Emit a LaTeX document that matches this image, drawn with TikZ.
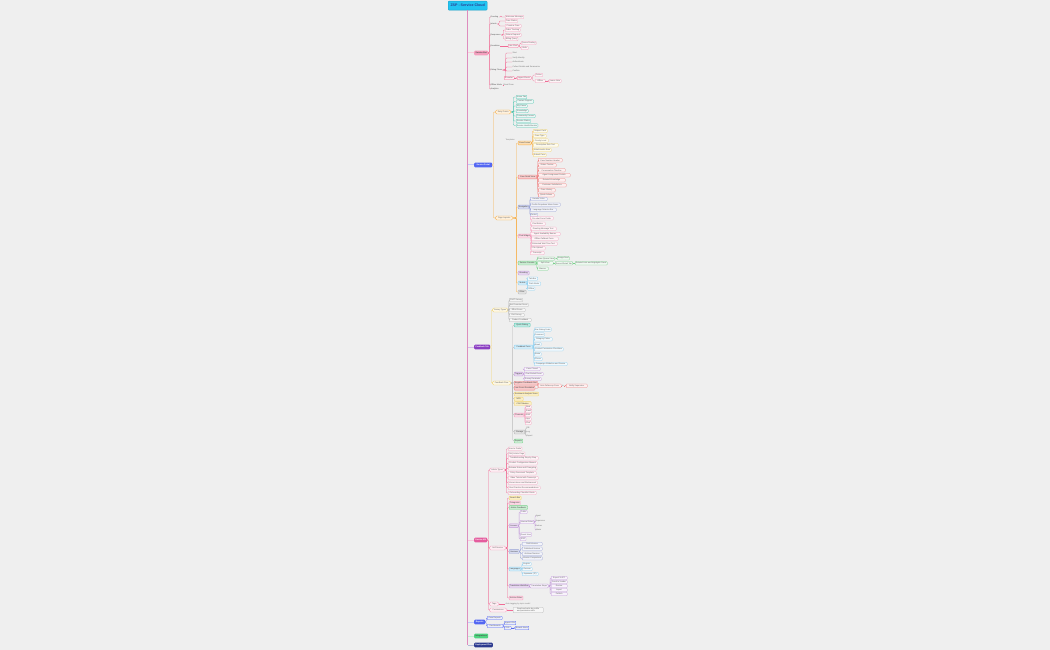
\documentclass[tikz,border=0pt]{standalone}
\usepackage{fontspec}
\setmainfont{Liberation Sans}
\usetikzlibrary{arrows.meta}
\newcommand\mmf{\fontsize{2}{2.3}\selectfont}
\definecolor{bgc}{HTML}{EFEFEF}
\definecolor{trunkcol}{RGB}{222,140,190}
\definecolor{pk}{HTML}{F06C95}
\definecolor{pkl}{HTML}{F4A0BE}
\definecolor{orc}{HTML}{F7B04A}
\definecolor{tl}{HTML}{52C7B2}
\definecolor{rd}{HTML}{EE7F7F}
\definecolor{pr}{HTML}{C39BDA}
\definecolor{bgr}{HTML}{98A2D6}
\definecolor{lb}{HTML}{8FD0F0}
\definecolor{gr}{HTML}{79D08C}
\definecolor{gy}{HTML}{B5B5B5}
\definecolor{yl}{HTML}{F2D46E}
\definecolor{bb}{HTML}{5467F2}
\definecolor{pp}{HTML}{8B3FC2}
\definecolor{pm}{HTML}{E45C9E}
\definecolor{gg}{HTML}{4FD47F}
\definecolor{nv}{HTML}{2D3A8F}
\definecolor{cy}{HTML}{22C4F2}
\tikzset{
 lf/.style={draw=#1, fill=#1!12!white, rounded corners=0.6pt, line width=0.25pt, inner xsep=0.8pt, inner ysep=0.3pt, minimum height=3.4pt, anchor=west, font=\mmf, text=black!60},
 ov/.style={draw=#1, fill=#1!18!white, rounded corners=1.8pt, line width=0.3pt, inner xsep=1.2pt, inner ysep=0.3pt, minimum height=4pt, anchor=west, font=\mmf, text=black!60},
 hd/.style={fill=#1!40!white, draw=#1, rounded corners=0.6pt, line width=0.3pt, inner xsep=0.8pt, inner ysep=0.3pt, minimum height=3.8pt, anchor=west, font=\mmf, text=black!75},
 pl/.style={anchor=west, font=\mmf, inner sep=0.4pt, text=black!70},
 mn/.style={fill=#1, rounded corners=1pt, inner xsep=1.2pt, inner ysep=0.3pt, minimum height=4.6pt, anchor=west, font=\mmf\bfseries, text=white},
 ln/.style={draw=#1, line width=0.3pt, rounded corners=1pt},
 ar/.style={ln=#1, -{Stealth[length=1.2pt,width=1.2pt]}},
}
\begin{document}
\begin{tikzpicture}[x=1pt,y=-1pt]
\useasboundingbox[fill=bgc] (0,0) rectangle (1050,650);
% title
\node[fill=cy, draw=cy!80!black, line width=0.3pt, rounded corners=0.8pt, minimum width=39pt, minimum height=9pt, inner sep=0.5pt, font=\fontsize{3.6}{4}\selectfont\bfseries, text=nv, anchor=north west] (title) at (448,1) {ZSP - Service Cloud};
% main branches
\node[mn=pkl, text=black!70, minimum width=14pt] (m1) at (474,53) {Service Bot};
\node[mn=bb, minimum width=18pt] (m2) at (474,165) {Service Portal};
\node[mn=pp, minimum width=16pt] (m3) at (474,347) {Feedback Tab};
\node[mn=pm, minimum width=13pt] (m4) at (474,540) {Service KB};
\node[mn=bb, minimum width=11pt] (m5) at (474,622) {Reports};
\node[mn=gg, text=black!70, minimum width=14pt] (m6) at (474,636) {Integrations};
\node[mn=nv, minimum width=18pt] (m7) at (474,645) {Deployment Plan};
\path[fill=trunkcol] ([xshift=-0.8pt]title.south) rectangle ([xshift=0.8pt]title.south |- m7.west);
\foreach \m/\cl in {m1/pk, m2/bb, m3/pp, m4/pm, m5/bb, m6/gg, m7/nv}
  \draw[draw=\cl!35!white, line width=1pt] ([xshift=0.8pt]title.south |- \m.west) -- (\m.west);

% ---------------- branch 1
\foreach \nm/\yy/\lbl in {a1/17/Greeting, a2/24/Intents, a3/35/Responses, a4/46/Escalation, a5/70/Dialog Flows, a6/85/Offline Mode, a7/89/Analytics}{
  \node[pl] (\nm) at (490,\yy) {\lbl};
  \draw[ln=pk] (m1.east) -- ++(1,0) |- (\nm.west);
}
\node[lf=pkl, minimum width=18pt] (a1-1) at (505,17) {Welcome Message};
\draw[ln=pk] (a1.east) -- ++(2,0) |- (a1-1.west);
\foreach \yy/\lbl/\ww [count=\i] in {21/Case Status/12, 26/Create a Case/16}{
  \node[lf=pkl, minimum width=\ww pt] (a2-\i) at (505,\yy) {\lbl};
  \draw[ln=pk] (a2.east) -- ++(2,0) |- (a2-\i.west);}
\foreach \yy/\lbl/\ww [count=\i] in {30/Order Tracking/15, 35/Return Request/16, 39/Billing Query/12}{
  \node[lf=pkl, minimum width=\ww pt] (a3-\i) at (505,\yy) {\lbl};
  \draw[ln=pk] (a3.east) -- ++(2,0) |- (a3-\i.west);}
\node[lf=pk, minimum width=10pt] (a4b) at (508,46) {Live Chat};
\draw[ln=pk] (a4.east) -- (a4b.west);
\foreach \yy/\lbl/\ww [count=\i] in {43/Queue Routing/14, 48/Skills/7}{
  \node[lf=pkl, minimum width=\ww pt] (a4-\i) at (521,\yy) {\lbl};
  \draw[ln=pk] (a4b.east) -- ++(1.5,0) |- (a4-\i.west);}
\foreach \yy/\lbl [count=\i] in {53/Start, 58/Verify Identity, 62/Authenticate, 67/Collect Details and Summarize, 71/Confirm}{
  \node[pl, text=black!55] (a5-\i) at (512,\yy) {\lbl};
  \draw[ln=pk] (a5.east) -- ++(3,0) |- (a5-\i.west);}
\node[lf=pk, minimum width=10pt] (t1) at (504,78) {Transfer};
\draw[ln=pk] (a5.east) -- ++(3,0) |- (t1.west);
\node[lf=pk, minimum width=14pt] (t2) at (517,78) {Agent Check};
\draw[ar=pk] (t1.east) -- (t2.west);
\node[lf=pkl, minimum width=7pt] (t3) at (535,75) {Online};
\node[lf=pkl, minimum width=10pt] (t4) at (535,81) {Offline};
\draw[ln=pk] (t2.east) -- ++(1.5,0) |- (t3.west);
\draw[ln=pk] (t2.east) -- ++(1.5,0) |- (t4.west);
\node[lf=pkl, minimum width=12pt] (t5) at (549,81) {Leave Note};
\draw[ar=pk] (t4.east) -- (t5.west);
\node[pl, text=black!55] (a6-1) at (503,85) {Email Form};
\draw[ln=pk] (a6.east) -- (a6-1.west);

% ---------------- branch 2
\node[ov=orc, minimum width=16pt] (b1) at (495,112) {Entry Points};
\node[ov=orc, minimum width=18pt] (b2) at (495,218) {Page Layouts};
\draw[ln=orc] (m2.east) -- ++(1,0) |- (b1.west);
\draw[ln=orc] (m2.east) -- ++(1,0) |- (b2.west);
\foreach \yy/\lbl/\ww [count=\i] in {97/Home Tab/10, 101.5/Contact Support/17.5, 106/My Cases/11, 111/Knowledge/12, 116/Community Forums/17.5, 121/Service Status/12, 125.5/Service Health Monitor/20}{
  \node[lf=tl, minimum width=\ww pt] (b1-\i) at (516,\yy) {\lbl};
  \draw[ln=tl] (b1.east) -- ++(2,0) |- (b1-\i.west);}
\node[pl, text=black!50] (tpl) at (505,139.5) {Templates};
\foreach \nm/\yy/\lbl/\cc/\ww in {c1/143/Case Forms/orc/13, c2/177/Case Detail View/rd/19, c3/207/Navigation/bgr/11, c4/236/Chat Widget/pkl/12, c5/263/Service Console/gr/18, c6/273/Branding/pr/11, c7/283/Mobile/lb/9, c8/292/Other/gy/8}{
  \node[hd=\cc, minimum width=\ww pt] (\nm) at (518,\yy) {\lbl};
  \draw[ln=orc] (b2.east) -- ++(3,0) |- (\nm.west);}
\foreach \yy/\lbl/\ww [count=\i] in {131/Subject Field/14, 136/Case Type/13, 140.5/Priority Level/15, 145.3/Description Rich Text/25, 150/Attachments Area/18, 155/Submit Case/13}{
  \node[lf=yl, minimum width=\ww pt] (c1-\i) at (533,\yy) {\lbl};
  \draw[ln=orc] (c1.east) -- ++(1,0) |- (c1-\i.west);}
\foreach \yy/\lbl/\ww [count=\i] in {160.3/Case Number Header/24, 165.2/Status Tracker/18, 170.3/Conversation Timeline/27, 175.2/Agent Assignment Details/32, 180.2/Related Knowledge/27, 185.2/Customer Satisfaction/28, 190.2/Case History/17, 195.2/Quick Actions/16}{
  \node[lf=rd, minimum width=\ww pt] (c2-\i) at (538,\yy) {\lbl};
  \draw[ln=rd] (c2.east) -- ++(0.5,0) |- (c2-\i.west);}
\foreach \yy/\lbl/\ww [count=\i] in {199/Header Links/17, 204.6/Profile Dropdown Menu Items/30, 209.7/Language Selector Bar/26, 215/Footer/7}{
  \node[lf=bgr, minimum width=\ww pt] (c3-\i) at (530,\yy) {\lbl};
  \draw[ln=bgr] (c3.east) -- ++(0.5,0) |- (c3-\i.west);}
\foreach \yy/\lbl/\ww [count=\i] in {218.3/Pre-chat Form Fields/23, 223.7/Chat Button/15, 228.7/Greeting Message Text/26, 234/Agent Availability Banner/30, 238.7/Offline Fallback Form/28, 243.7/Estimated Wait Time Text/27, 248.3/File Upload/15, 253/Transcript/14}{
  \node[lf=pkl, minimum width=\ww pt] (c4-\i) at (530,\yy) {\lbl};
  \draw[ln=pkl] (c4.east) -- ++(0.5,0) |- (c4-\i.west);}
\node[lf=gr, minimum width=16pt] (c5-1) at (537,258.6) {Case Queue View};
\node[lf=gr, minimum width=16pt] (c5-2) at (537,263.3) {Split View};
\node[lf=gr, minimum width=11pt] (c5-3) at (537,268.6) {Macros};
\foreach \i in {1,2,3} \draw[ln=gr] (c5.east) -- ++(0.5,0) |- (c5-\i.west);
\node[lf=gr, minimum width=12pt] (c5-4) at (557,258.3) {Assign Next};
\draw[ar=gr] (c5-1.east) -- (c5-4.west);
\node[lf=gr, minimum width=17pt] (c5-5) at (555,263.3) {Record Detail Tab};
\draw[ln=gr] (c5-2.east) -- (c5-5.west);
\node[lf=gr, minimum width=27pt] (c5-6) at (575,263.3) {Related Lists and Highlights Panel};
\draw[ln=gr] (c5-5.east) -- (c5-6.west);
\foreach \yy/\lbl/\ww [count=\i] in {278.6/Tab Bar/10, 283.7/Push Alerts/13, 288.6/Offline/7}{
  \node[lf=lb, minimum width=\ww pt] (c7-\i) at (527.5,\yy) {\lbl};
  \draw[ln=lb] (c7.east) -- ++(0.3,0) |- (c7-\i.west);}

% ---------------- branch 3
\node[ov=yl, minimum width=16pt] (d1) at (492,310) {Survey Types};
\node[ov=yl, minimum width=19pt] (d2) at (492,383) {Feedback Flow};
\draw[ln=yl] (m3.east) -- ++(1,0) |- (d1.west);
\draw[ln=yl] (m3.east) -- ++(1,0) |- (d2.west);
\foreach \yy/\lbl/\ww [count=\i] in {300/CSAT Survey/13, 305/Net Promoter Score/18, 310/Effort Score/16, 315/Exit Survey/15, 320/Product Feedback/22}{
  \node[lf=gy, minimum width=\ww pt] (d1-\i) at (509,\yy) {\lbl};
  \draw[ln=gy] (d1.east) -- ++(0.5,0) |- (d1-\i.west);}
\foreach \nm/\yy/\lbl/\cc/\ww in {e1/325/Quick Rating/tl/16, e2/347/Feedback Form/lb/19, e3/374/Triggers/pr/8.5, e4/383.2/Negative Feedback Alert/rd/21, e5/388.2/Low Score Escalation/rd/19, e6/394/Sentiment Analysis Score/yl/23, e7/399/NPS/yl/9, e8/403.5/CSAT Metrics/yl/17, e9/415/Channels/pkl/9.5, e10/432/Storage/gy/11, e11/441/Reports/gr/8}{
  \node[hd=\cc, minimum width=\ww pt] (\nm) at (514,\yy) {\lbl};
  \draw[ln=gy] (d2.east) -- ++(1.5,0) |- (\nm.west);}
\foreach \yy/\lbl/\ww [count=\i] in {329.5/Star Rating Scale/17, 334.5/Comment/9, 339.3/Category Picker/18, 344.3/Email/7, 349.2/Contact Permission Checkbox/29, 354.2/Name/7, 359/Phone/8, 364/Campaign Attribution and Source/33}{
  \node[lf=lb, minimum width=\ww pt] (e2-\i) at (534,\yy) {\lbl};
  \draw[ln=lb] (e2.east) -- ++(0.5,0) |- (e2-\i.west);}
\foreach \yy/\lbl/\ww [count=\i] in {369/Case Closed/16, 374/Chat Ended Event/19, 379/Survey Reminder/17}{
  \node[lf=pr, minimum width=\ww pt] (e3-\i) at (524,\yy) {\lbl};
  \draw[ln=pr] (e3.east) -- ++(1,0) |- (e3-\i.west);}
\coordinate (brk) at (537,385.7);
\draw[ln=rd] (e4.east) -- ++(1.2,0) |- (brk);
\draw[ln=rd] (e5.east) -- ++(3.2,0) |- (brk);
\node[lf=rd, minimum width=23pt] (r1) at (538,385.7) {Auto Follow-up Case};
\node[pl, text=black!55] (rt) at (561.5,385.7) {to};
\node[lf=rd, minimum width=21pt] (r2) at (566,385.7) {Notify Supervisor};
\draw[ln=rd] (r1.east) -- (rt.west);
\draw[ar=rd] (rt.east) -- (r2.west);
\foreach \yy/\lbl [count=\i] in {407/Web, 411/Email, 415/SMS, 419/App, 423/Chat}{
  \node[lf=pkl, minimum width=6pt] (e9-\i) at (525,\yy) {\lbl};
  \draw[ln=pkl] (e9.east) -- ++(0.5,0) |- (e9-\i.west);}
\foreach \yy/\lbl [count=\i] in {428/DB, 432/Log, 436/Export}{
  \node[pl, text=black!55] (e10-\i) at (526,\yy) {\lbl};
  \draw[ln=gy] (e10.east) -- ++(0.3,0) |- (e10-\i.west);}

% ---------------- branch 4
\node[ov=pkl, minimum width=16pt] (f1) at (489,470) {Article Types};
\node[ov=pkl, minimum width=17pt] (f2) at (489,548) {Self Service};
\node[ov=pkl, minimum width=10pt] (f3) at (489,604) {Tags};
\node[ov=pkl, minimum width=18pt] (f4) at (489,610) {Permissions};
\foreach \nm in {f1,f2,f3,f4} \draw[ln=pk] (m4.east) -- ++(1,0) |- (\nm.west);
\foreach \yy/\lbl/\ww [count=\i] in {448.7/How-to Guide/12, 453.7/FAQ Article Page/15, 458.3/Troubleshooting Step by Step/30, 463.3/Product Configuration Manual/29, 468.3/Release Notes and Changelog/28, 473.3/Policy Document Template/28, 478/Video Tutorial with Transcript/30, 482.7/Known Issue and Workaround/29, 487.7/Best Practice Recommendations/32, 493/Onboarding Checklist Guide/28}{
  \node[lf=pkl, minimum width=\ww pt] (f1-\i) at (508,\yy) {\lbl};
  \draw[ln=pk] (f1.east) -- ++(1,0) |- (f1-\i.west);}
\foreach \nm/\yy/\lbl/\cc/\ww in {g1/498/Search Bar/yl/12, g2/503/Categories/pkl/11, g3/507.5/Article Feedback/gr/18.5, g4/525.7/Access/pr/9, g5/551.5/Versions/bgr/10, g6/569/Languages/lb/11, g7/586/Translation Workflow/pr/18, g8/598/Archive Rules/pkl/13}{
  \node[hd=\cc, minimum width=\ww pt] (\nm) at (509,\yy) {\lbl};
  \draw[ln=pk] (f2.east) -- ++(1,0) |- (\nm.west);}
\foreach \yy/\lbl/\ww [count=\i] in {512/Public/7, 522/Internal Roles/13, 534.5/Guest User/9, 539/SSO/4.5}{
  \node[lf=pr, minimum width=\ww pt] (g4-\i) at (520,\yy) {\lbl};
  \draw[ln=pr] (g4.east) -- ++(0.8,0) |- (g4-\i.west);}
\foreach \yy/\lbl [count=\i] in {516/Agent, 521/Supervisor, 525.7/Partner, 530/Admin}{
  \node[pl, text=black!55] (g4b-\i) at (535,\yy) {\lbl};
  \draw[ln=pr] (g4-2.east) -- ++(0.8,0) |- (g4b-\i.west);}
\foreach \yy/\lbl [count=\i] in {544/Draft Version, 548.8/Published Version, 553.7/Archived Version, 558.4/Version Comparison}{
  \node[lf=bgr, minimum width=20pt] (g5-\i) at (522,\yy) {\lbl};
  \draw[ln=bgr] (g5.east) -- ++(1,0) |- (g5-\i.west);}
\foreach \yy/\lbl/\ww [count=\i] in {564/English/9, 569/German/10, 574/Japanese (JP)/16}{
  \node[lf=lb, minimum width=\ww pt] (g6-\i) at (522,\yy) {\lbl};
  \draw[ln=lb] (g6.east) -- ++(1,0) |- (g6-\i.west);}
\node[ov=pr, minimum width=20pt] (g7b) at (529,586) {Translation Steps};
\draw[ln=pr] (g7.east) -- (g7b.west);
\foreach \yy/\lbl [count=\i] in {578/Export XLIFF, 582/Send to Vendor, 586/Review, 590/Import, 594/Publish}{
  \node[lf=pr, minimum width=16pt] (g7-\i) at (551,\yy) {\lbl};
  \draw[ln=pr] (g7b.east) -- ++(0.8,0) |- (g7-\i.west);}
\node[pl, text=black!50] (f3-1) at (505,604) {Auto tagging by topic model};
\draw[ln=pk] (f3.east) -- (f3-1.west);
\node[lf=gy, align=left, minimum width=30pt, inner ysep=0.5pt] (f4-1) at (513,610) {Read and write by profile\\and permission sets};
\draw[ln=pk] (f4.east) -- (f4-1.west);

% ---------------- branch 5
\node[lf=bb, minimum width=15pt] (k1) at (487,618) {Case Reports};
\node[lf=bb, minimum width=16pt] (k2) at (487,626) {Dashboards};
\draw[ln=bb] (m5.east) -- ++(0.8,0) |- (k1.west);
\draw[ln=bb] (m5.east) -- ++(0.8,0) |- (k2.west);
\node[lf=bb, minimum width=9pt] (k3) at (504,623) {Agent KPIs};
\node[lf=bb, minimum width=7pt] (k4) at (504,628) {SLA};
\draw[ln=bb] (k2.east) -- ++(0.5,0) |- (k3.west);
\draw[ln=bb] (k2.east) -- ++(0.5,0) |- (k4.west);
\node[lf=bb, minimum width=12pt] (k5) at (515,628) {Breach Alerts};
\draw[ar=bb] (k4.east) -- (k5.west);
\end{tikzpicture}
\end{document}
